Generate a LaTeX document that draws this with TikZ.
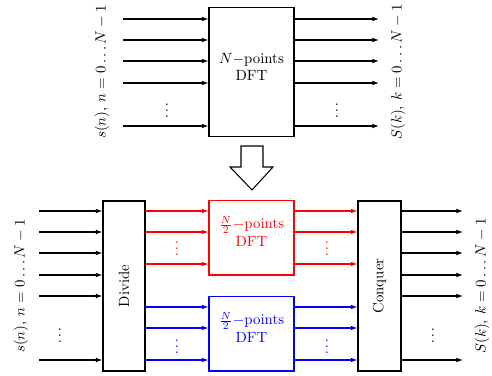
\documentclass[tikz,border=0pt]{standalone}
\usetikzlibrary{arrows.meta,fit}
\begin{document}
\begin{tikzpicture}[x=0.675pt,y=-0.675pt,
  box/.style={draw,line width=0.7pt,inner sep=0pt},
  arr/.style={line width=0.7pt,-{Latex[length=4.5pt,width=3.2pt]}},
  lab/.style={rotate=90,inner sep=0pt}]
\useasboundingbox (0,0) rectangle (492,376);
% ---------- top ----------
\node (dft) [box,fit={(209,7.5)(294,136.5)},align=center] {$N-$points\\DFT};
\foreach \y [count=\i] in {19,40,61,83,126}{
  \coordinate (ti\i) at (123,\y);
  \coordinate (to\i) at (379,\y);
  \draw[arr] (ti\i) -- (ti\i -| dft.west);
  \draw[arr] (ti\i -| dft.east) -- (to\i);
}
\node (tdl) at (167,106) {$\vdots$};
\node (tdr) at (337,106) {$\vdots$};
\node (tll) [lab] at (102,72) {$s(n)$, $n=0\dots N-1$};
\node (tlr) [lab] at (398,72) {$S(k)$, $k=0\dots N-1$};
% ---------- hollow arrow ----------
\draw[line width=0.7pt,line join=miter] (241,146) -- (263,146) -- (263,167) -- (273,167) -- (252,190) -- (230,167) -- (241,167) -- cycle;
% ---------- bottom ----------
\node (div) [box,fit={(103,201)(145,371)}] {};
\node [rotate=90] at (div.center) {Divide};
\node (con) [box,fit={(358,201)(401,371)}] {};
\node [rotate=90] at (con.center) {Conquer};
\node (red) [box,draw=red,text=red,fit={(209,200.5)(294,275)},align=center] {$\frac{N}{2}-$points\\DFT};
\node (blu) [box,draw=blue,text=blue,fit={(209,296.5)(294,371)},align=center] {$\frac{N}{2}-$points\\DFT};
\foreach \y [count=\i] in {211,232,253,275,296,360}{
  \coordinate (bi\i) at (39,\y);
  \coordinate (bo\i) at (463,\y);
  \draw[arr] (bi\i) -- (bi\i -| div.west);
  \draw[arr] (bi\i -| con.east) -- (bo\i);
}
\foreach \y in {211,232,264}{
  \coordinate (r) at (0,\y);
  \draw[arr,red] (r -| div.east) -- (r -| red.west);
  \draw[arr,red] (r -| red.east) -- (r -| con.west);
}
\foreach \y in {307,328,360}{
  \coordinate (b) at (0,\y);
  \draw[arr,blue] (b -| div.east) -- (b -| blu.west);
  \draw[arr,blue] (b -| blu.east) -- (b -| con.west);
}
\node (bdl) at (60,331) {$\vdots$};
\node (bdr) at (433,331) {$\vdots$};
\node (rdl) [text=red] at (177,244) {$\vdots$};
\node (rdr) [text=red] at (327,244) {$\vdots$};
\node (udl) [text=blue] at (177,342) {$\vdots$};
\node (udr) [text=blue] at (327,342) {$\vdots$};
\node (bll) [lab] at (21,286) {$s(n)$, $n=0\dots N-1$};
\node (blr) [lab] at (482,286) {$S(k)$, $k=0\dots N-1$};
\end{tikzpicture}
\end{document}
